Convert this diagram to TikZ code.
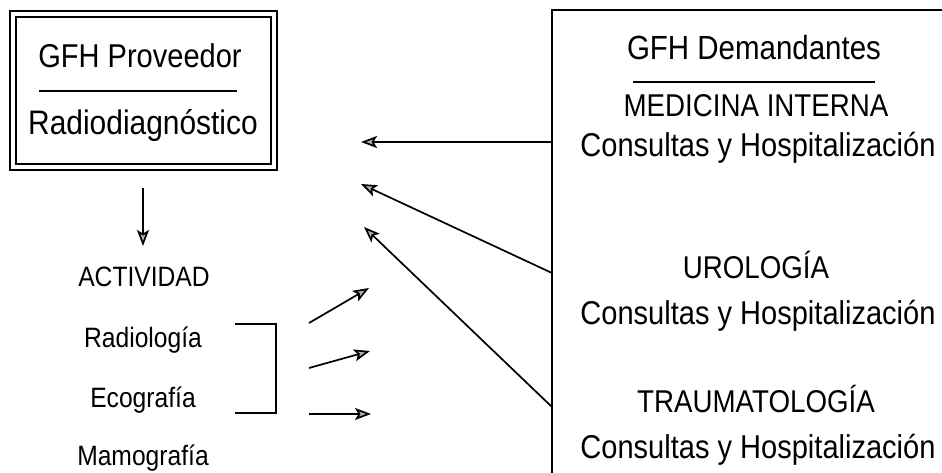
\documentclass[tikz,border=0pt]{standalone}
\usepackage{fontspec}
\setmainfont{Liberation Sans}[FakeStretch=0.88]
\usetikzlibrary{arrows.meta}
\begin{document}
\begin{tikzpicture}[x=1pt,y=-1pt,
  txt/.style={inner sep=0pt, anchor=base},
  headfont/.style={font=\fontsize{31.5}{32}\selectfont},
  subfont/.style={font=\fontsize{33}{33}\selectfont},
  listfont/.style={font=\fontsize{28}{28}\selectfont},
  rule/.style={line width=1.2pt},
  arr/.style={-{Stealth[length=16pt,width=12pt,inset=3.5pt,fill=gray!60]}, line width=1.7pt}]
\useasboundingbox (0,0) rectangle (942,473);

% left provider box
\node[draw, double, double distance=4pt, line width=1.6pt, minimum width=261pt, minimum height=153pt, inner sep=0pt] (prov) at (143.5,90.5) {};
\node[txt, font=\fontsize{33}{33}\selectfont] (gfhp) at (140,68) {GFH Proveedor};
\draw[rule] (39,91) coordinate (r1a) -- (237,91) coordinate (r1b);
\node[txt, font=\fontsize{34}{34}\selectfont] (radio) at (143,135) {Radiodiagnóstico};

% activity list
\coordinate (dtop) at (143,188);
\coordinate (dbot) at (143,246);
\draw[arr] (dtop) -- (dbot);
\node[txt, listfont] (act) at (144,286) {ACTIVIDAD};
\node[txt, listfont] (rad) at (143,347) {Radiología};
\node[txt, listfont] (eco) at (143,407) {Ecografía};
\node[txt, listfont] (mam) at (143,465) {Mamografía};
\coordinate (b1) at (235,324);
\coordinate (b2) at (276,324);
\coordinate (b3) at (276,413);
\coordinate (b4) at (235,413);
\draw[line width=1.4pt] (b1) -- (b2) -- (b3) -- (b4);

% small arrows
\coordinate (s1a) at (309,323); \coordinate (s1b) at (369,288);
\coordinate (s2a) at (309,368); \coordinate (s2b) at (370,351);
\coordinate (s3a) at (309,414); \coordinate (s3b) at (371,414);
\draw[arr] (s1a) -- (s1b);
\draw[arr] (s2a) -- (s2b);
\draw[arr] (s3a) -- (s3b);

% right demand box
\coordinate (dtr) at (942,10);
\coordinate (dtl) at (552,10);
\coordinate (dbl) at (552,473);
\draw[line width=1.6pt] (dtr) -- (dtl) -- (dbl);
\node[txt, font=\fontsize{33.5}{34}\selectfont] (gfhd) at (754,60) {GFH Demandantes};
\draw[rule] (633,82) coordinate (r2a) -- (875,82) coordinate (r2b);
\node[txt, headfont] (med) at (756,117) {MEDICINA INTERNA};
\node[txt, subfont] (c1) at (758,157) {Consultas y Hospitalización};
\node[txt, headfont] (uro) at (756,278) {UROLOGÍA};
\node[txt, subfont] (c2) at (758,324) {Consultas y Hospitalización};
\node[txt, headfont] (tra) at (756,412) {TRAUMATOLOGÍA};
\node[txt, subfont] (c3) at (758,458) {Consultas y Hospitalización};

% big arrows
\coordinate (a1s) at (552,142); \coordinate (a1e) at (361,142);
\coordinate (a2s) at (552,273); \coordinate (a2e) at (361,184);
\coordinate (a3s) at (552,407); \coordinate (a3e) at (364,227);
\draw[arr] (a1s) -- (a1e);
\draw[arr] (a2s) -- (a2e);
\draw[arr] (a3s) -- (a3e);
\end{tikzpicture}
\end{document}
